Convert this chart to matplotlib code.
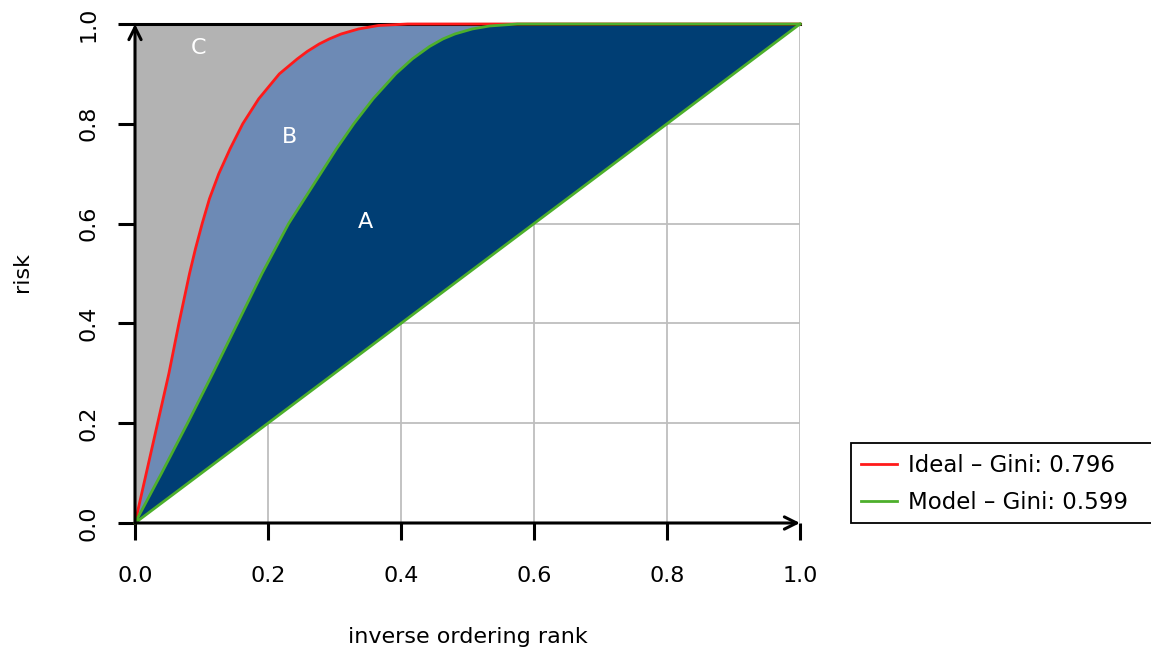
import matplotlib
matplotlib.use("Agg")
import matplotlib.pyplot as plt
from matplotlib.patches import Polygon, Rectangle
from matplotlib.lines import Line2D

# Ideal (perfect ordering) curve: cumulative risk vs. inverse ordering rank
ideal_x = [0.0, 0.017, 0.034, 0.051, 0.066, 0.074, 0.082, 0.091, 0.101, 0.112,
           0.126, 0.143, 0.162, 0.186, 0.217, 0.244, 0.259, 0.277, 0.292,
           0.310, 0.336, 0.366, 0.410, 1.0]
ideal_y = [0.0, 0.100, 0.200, 0.300, 0.400, 0.450, 0.500, 0.550, 0.600, 0.650,
           0.700, 0.750, 0.800, 0.850, 0.900, 0.930, 0.945, 0.960, 0.970,
           0.980, 0.990, 0.997, 1.0, 1.0]

# Model curve
model_x = [0.0, 0.040, 0.079, 0.117, 0.154, 0.191, 0.231, 0.279, 0.303, 0.329,
           0.358, 0.392, 0.417, 0.443, 0.463, 0.481, 0.507, 0.533, 0.575, 1.0]
model_y = [0.0, 0.100, 0.200, 0.300, 0.400, 0.500, 0.600, 0.700, 0.750, 0.800,
           0.850, 0.900, 0.930, 0.955, 0.970, 0.980, 0.990, 0.996, 1.0, 1.0]

# Random ordering (diagonal)
random_x = [0.0, 1.0]
random_y = [0.0, 1.0]

gini_ideal = 0.796
gini_model = 0.599

ticks = [0.0, 0.2, 0.4, 0.6, 0.8, 1.0]
tick_labels = ["0.0", "0.2", "0.4", "0.6", "0.8", "1.0"]

region_labels = ["C", "B", "A"]
region_pos = [(0.095, 0.952), (0.233, 0.774), (0.346, 0.603)]

C_GRAY = "#B3B3B3"
C_LIGHT = "#6D8AB5"
C_NAVY = "#003E74"
C_RED = "#FF1A1A"
C_GREEN = "#4DAF2B"

plt.rcParams["font.family"] = ["DejaVu Sans"]
FS = 16
FS_LEG = 16.5

W, H = 1151, 650
fig = plt.figure(figsize=(W / 100, H / 100), dpi=100)
ax = fig.add_axes([135 / W, 1 - 523 / H, 665 / W, 499 / H])
ax.set_xlim(0, 1)
ax.set_ylim(0, 1)
for s in ax.spines.values():
    s.set_visible(False)

# grid behind the filled regions
for t in ticks[1:]:
    ax.plot([t, t], [0, 1], color="#BEBEBE", lw=1.3, zorder=0)
    ax.plot([0, 1], [t, t], color="#BEBEBE", lw=1.3, zorder=0)

# region C: between ideal curve and the top
ptsC = list(zip(ideal_x, ideal_y)) + [(0.0, 1.0)]
ax.add_patch(Polygon(ptsC, closed=True, facecolor=C_GRAY, edgecolor="none", zorder=1))
# region B: between model and ideal curves
ptsB = list(zip(ideal_x, ideal_y)) + list(zip(model_x, model_y))[::-1]
ax.add_patch(Polygon(ptsB, closed=True, facecolor=C_LIGHT, edgecolor="none", zorder=1))
# region A: between diagonal and model curve
ptsA = list(zip(model_x, model_y)) + list(zip(random_x, random_y))[::-1]
ax.add_patch(Polygon(ptsA, closed=True, facecolor=C_NAVY, edgecolor="none", zorder=1))

# top border line
ax.plot([0, 1], [1, 1], color="black", lw=2.2, zorder=2, clip_on=False)

ax.plot(ideal_x, ideal_y, color=C_RED, lw=2.0, zorder=3, clip_on=False,
        solid_joinstyle="round")
ax.plot(model_x, model_y, color=C_GREEN, lw=2.0, zorder=4, clip_on=False,
        solid_joinstyle="round")
ax.plot(random_x, random_y, color=C_GREEN, lw=2.0, zorder=4, clip_on=False)

for lab, (px, py) in zip(region_labels, region_pos):
    ax.text(px, py, lab, color="white", fontsize=FS, ha="center", va="center", zorder=5)

# axes with arrows
arrow = dict(arrowstyle="->", lw=2.2, color="black", mutation_scale=22,
             shrinkA=0, shrinkB=0)
ax.annotate("", xy=(1.0, 0.0), xytext=(0.0, 0.0), arrowprops=arrow,
            annotation_clip=False, zorder=6)
ax.annotate("", xy=(0.0, 1.0), xytext=(0.0, 0.0), arrowprops=arrow,
            annotation_clip=False, zorder=6)

ax.set_xticks(ticks)
ax.set_xticklabels(tick_labels)
ax.set_yticks(ticks)
ax.set_yticklabels(tick_labels, rotation=90, va="center")
ax.tick_params(axis="both", direction="out", length=12, width=2.2, labelsize=FS,
               color="black")
ax.tick_params(axis="x", pad=19)
ax.tick_params(axis="y", pad=14)

fig.text(468 / W, 1 - 637 / H, "inverse ordering rank", fontsize=FS,
         ha="center", va="center")
fig.text(22 / W, 1 - 272 / H, "risk", fontsize=FS, rotation=90,
         ha="center", va="center")

# legend box running off the right edge
fig.add_artist(Rectangle((851 / W, 1 - 523 / H), 304 / W, 80 / H,
                         transform=fig.transFigure, facecolor="white",
                         edgecolor="black", lw=1.3))
handles = [Line2D([], [], color=C_RED, lw=2.0),
           Line2D([], [], color=C_GREEN, lw=2.0)]
labels = [f"Ideal \u2013 Gini: {gini_ideal:.3f}",
          f"Model \u2013 Gini: {gini_model:.3f}"]
leg = fig.legend(handles, labels, loc="center left",
                 bbox_to_anchor=(851 / W, 1 - 484 / H), borderaxespad=0,
                 fontsize=FS_LEG, frameon=False,
                 handlelength=1.55, handletextpad=0.5, labelspacing=0.62,
                 borderpad=0.45)

fig.savefig("out.png", dpi=100)
